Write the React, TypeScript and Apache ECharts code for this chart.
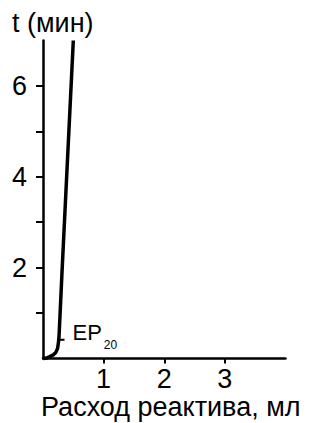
import React, { useEffect, useRef } from "react";
import * as echarts from "echarts";

const reagentVolume = [0, 0.06, 0.11, 0.17, 0.21, 0.24, 0.255, 0.265, 0.317, 0.5];
const timeMinutes = [0, 0.01, 0.04, 0.08, 0.13, 0.22, 0.35, 0.5, 2, 7];
const xTickValues = [1, 2, 3];
const yTickValues = [1, 2, 3, 4, 5, 6];
const yLabelValues = [2, 4, 6];
const epMarkerX = [0.262, 0.355];
const epMarkerY = [0.41, 0.41];
const yAxisTitle = "t (мин)";
const xAxisTitle = "Расход реактива, мл";

const FONT = "'Liberation Sans', Arial, sans-serif";

export default function App() {
  const ref = useRef<HTMLDivElement>(null);
  useEffect(() => {
    if (!ref.current) return;
    const chart = echarts.init(ref.current, undefined, { renderer: "svg" });
    const curve = reagentVolume.map((x, i) => [x, timeMinutes[i]]);
    const ep = epMarkerX.map((x, i) => [x, epMarkerY[i]]);
    chart.setOption({
      animation: false,
      backgroundColor: "#fff",
      grid: { left: 43, right: 33.5, top: 40.5, bottom: 64.5 },
      xAxis: {
        type: "value",
        min: 0,
        max: 4,
        interval: 1,
        splitLine: { show: false },
        axisLine: { show: true, lineStyle: { color: "#000", width: 2.5 } },
        axisTick: {
          show: true,
          customValues: xTickValues,
          length: 5,
          lineStyle: { color: "#000", width: 2 },
        },
        axisLabel: {
          customValues: xTickValues,
          fontSize: 27,
          color: "#000",
          fontFamily: FONT,
          margin: 7,
        },
      },
      yAxis: {
        type: "value",
        min: 0,
        max: 7,
        interval: 1,
        splitLine: { show: false },
        axisLine: { show: true, lineStyle: { color: "#000", width: 2.5 } },
        axisTick: {
          show: true,
          customValues: yTickValues,
          length: 7,
          lineStyle: { color: "#000", width: 2 },
        },
        axisLabel: {
          customValues: yLabelValues,
          fontSize: 27,
          color: "#000",
          fontFamily: FONT,
          margin: 16,
        },
      },
      graphic: [
        {
          type: "text",
          left: 12,
          top: 9,
          style: { text: yAxisTitle, fontSize: 27, fill: "#000", fontFamily: FONT },
        },
        {
          type: "text",
          left: 41,
          top: 393,
          style: { text: xAxisTitle, fontSize: 27, fill: "#000", fontFamily: FONT },
        },
      ],
      series: [
        {
          type: "line",
          data: curve,
          showSymbol: false,
          symbol: "none",
          lineStyle: { color: "#000", width: 3.5 },
          clip: false,
        },
        {
          type: "line",
          data: ep,
          showSymbol: false,
          symbol: "none",
          lineStyle: { color: "#000", width: 2 },
          endLabel: {
            show: true,
            distance: 8,
            offset: [0, -6],
            formatter: "{a|EP}{b|20}",
            rich: {
              a: { fontSize: 22, fontFamily: FONT, color: "#000", verticalAlign: "top", lineHeight: 24 },
              b: { fontSize: 12, fontFamily: FONT, color: "#000", verticalAlign: "top", lineHeight: 12, padding: [17, 0, 0, 2] },
            },
          },
        },
      ],
    });
    return () => chart.dispose();
  }, []);
  return <div ref={ref} style={{ width: 319, height: 423, position: "absolute", left: 0, top: 0 }} />;
}
